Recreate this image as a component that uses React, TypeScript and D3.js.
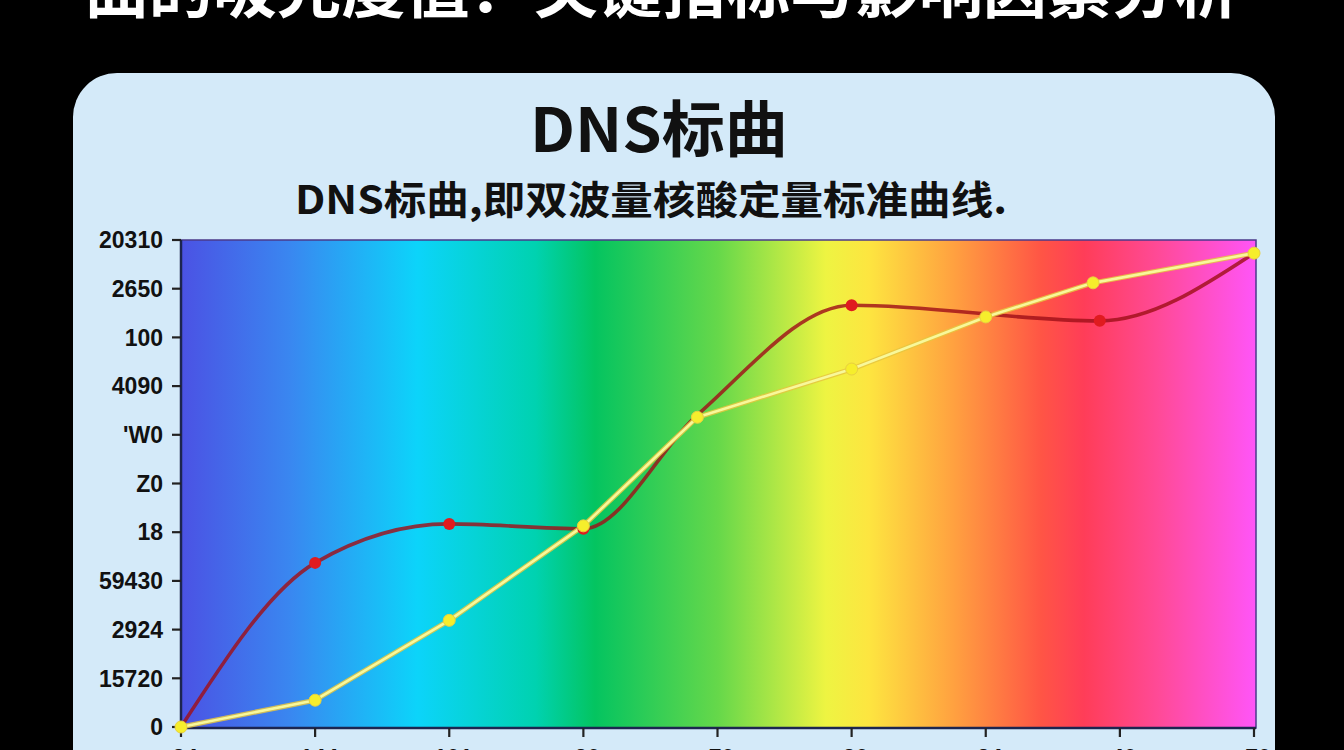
import React from 'react';
import * as d3 from 'd3';

// ---- data ----
const yTickValues = [0, 1, 2, 3, 4, 5, 6, 7, 8, 9, 10];
const yTickLabels = ['0', '15720', '2924', '59430', '18', 'Z0', "'W0", '4090', '100', '2650', '20310'];
const xTickValues = [0, 1, 2, 3, 4, 5, 6, 7, 8];
const xTickLabels = ['24', '144', '101', '30', '70', '30', '24', '40', '70'];

const yellowX = [0, 1, 2, 3, 3.85, 5, 6, 6.8, 8];
const yellowY = [0, 0.55, 2.19, 4.13, 6.36, 7.35, 8.42, 9.12, 9.73];

const redX = [0, 1, 2, 3, 3.85, 5, 6.85, 8];
const redY = [0, 3.37, 4.17, 4.07, 6.41, 8.66, 8.34, 9.73];
const redMarker = [false, true, true, true, false, true, true, false];

const gradientStops: [number, string][] = [
  [0, '#4b52e4'],
  [0.1, '#3a86f0'],
  [0.22, '#0cd4fa'],
  [0.33, '#00d2b0'],
  [0.385, '#04c460'],
  [0.5, '#66d84a'],
  [0.6, '#eef442'],
  [0.64, '#fde540'],
  [0.72, '#ffa040'],
  [0.8, '#ff5545'],
  [0.84, '#ff3d58'],
  [0.91, '#ff4a98'],
  [1, '#ff55f8'],
];

const W = 1344;
const H = 750;
const plot = { left: 181, right: 1256, top: 240, bottom: 728 };

export default function App() {
  const x = d3.scaleLinear().domain([0, 8]).range([plot.left, plot.right - 2]);
  const y = d3.scaleLinear().domain([0, 10]).range([plot.bottom - 1, plot.top]);

  const yellowPts = yellowX.map((v, i) => [x(v), y(yellowY[i])] as [number, number]);
  const redPts = redX.map((v, i) => [x(v), y(redY[i])] as [number, number]);

  const yellowPath = d3.line().curve(d3.curveLinear)(yellowPts) || '';
  const redPath = d3.line().curve(d3.curveMonotoneX)(redPts) || '';

  const cjk = '"Noto Sans CJK SC", "Noto Sans", sans-serif';
  const num = '"Liberation Sans", Arial, sans-serif';

  return (
    <svg
      width={W}
      height={H}
      style={{ position: 'fixed', left: 0, top: 0, display: 'block' }}
    >
      <defs>
        <linearGradient id="rainbow" x1="0" y1="0" x2="1" y2="0">
          {gradientStops.map(([o, c], i) => (
            <stop key={i} offset={o} stopColor={c} />
          ))}
        </linearGradient>
      </defs>
      <rect x={0} y={0} width={W} height={H} fill="#000" />

      {/* cut-off page title */}
      <text
        x={662}
        y={13}
        textAnchor="middle"
        fill="#fff"
        fontFamily={cjk}
        fontWeight={700}
        fontSize={62}
        textLength={1155}
        lengthAdjust="spacingAndGlyphs"
      >
        曲的吸光度值：关键指标与影响因素分析
      </text>

      {/* panel */}
      <rect x={73} y={73} width={1202} height={760} rx={44} fill="#d4eaf9" />

      <text
        x={659}
        y={152}
        textAnchor="middle"
        fill="#111"
        fontFamily={cjk}
        fontWeight={700}
        fontSize={61}
        textLength={258}
        lengthAdjust="spacingAndGlyphs"
      >
        DNS标曲
      </text>
      <text
        x={651}
        y={214}
        textAnchor="middle"
        fill="#111"
        fontFamily={cjk}
        fontWeight={700}
        fontSize={39}
        textLength={712}
        lengthAdjust="spacingAndGlyphs"
      >
        DNS标曲,即双波量核酸定量标准曲线.
      </text>

      {/* plot background */}
      <rect
        x={plot.left}
        y={plot.top}
        width={plot.right - plot.left}
        height={plot.bottom - plot.top}
        fill="url(#rainbow)"
        stroke="#4a3a8a"
        strokeWidth={1.5}
      />

      {/* axes */}
      <line x1={plot.left} x2={plot.left} y1={plot.top} y2={plot.bottom} stroke="#1c2550" strokeWidth={2.5} />
      <line x1={plot.left} x2={plot.right} y1={plot.bottom} y2={plot.bottom} stroke="#1c2550" strokeWidth={2.5} />

      {yTickValues.map((v, i) => (
        <g key={'y' + i}>
          <line x1={plot.left - 9} x2={plot.left} y1={y(v)} y2={y(v)} stroke="#222" strokeWidth={2.2} />
          <text
            x={plot.left - 18}
            y={y(v)}
            dy="0.36em"
            textAnchor="end"
            fill="#111"
            fontFamily={num}
            fontWeight={700}
            fontSize={23}
          >
            {yTickLabels[i]}
          </text>
        </g>
      ))}

      {xTickValues.map((v, i) => (
        <g key={'x' + i}>
          <line x1={x(v)} x2={x(v)} y1={plot.bottom} y2={plot.bottom + 9} stroke="#222" strokeWidth={2.2} />
          <text
            x={x(v) + 4}
            y={766}
            textAnchor="middle"
            fill="#111"
            fontFamily={num}
            fontWeight={700}
            fontSize={23}
          >
            {xTickLabels[i]}
          </text>
        </g>
      ))}

      {/* red series */}
      <path d={redPath} fill="none" stroke="#a01018" strokeOpacity={0.82} strokeWidth={3.6} strokeLinejoin="round" />

      {/* yellow series */}
      <path d={yellowPath} fill="none" stroke="#e6c640" strokeOpacity={0.85} strokeWidth={5} strokeLinejoin="round" />
      <path d={yellowPath} fill="none" stroke="#f8f89a" strokeWidth={2.6} strokeLinejoin="round" />

      {redPts.map((p, i) =>
        redMarker[i] ? <circle key={'r' + i} cx={p[0]} cy={p[1]} r={6} fill="#e01b1f" /> : null
      )}
      {yellowPts.map((p, i) => (
        <circle key={'yl' + i} cx={p[0]} cy={p[1]} r={6} fill="#f6ee2c" stroke="#e8d040" strokeWidth={1} />
      ))}
    </svg>
  );
}
